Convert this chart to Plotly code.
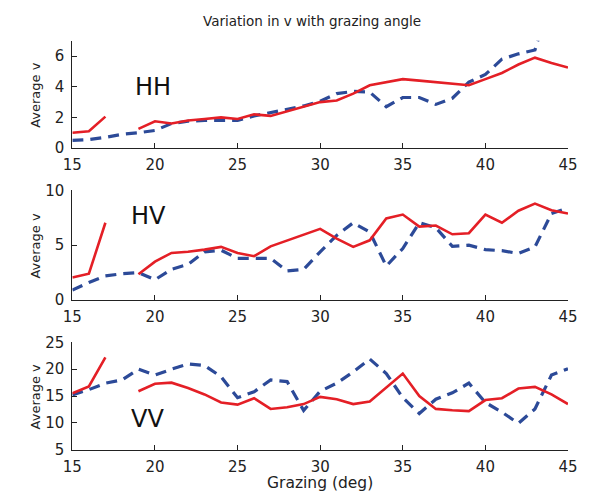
import plotly.graph_objects as go

grazing = list(range(15, 46))

hh_red = [1.0, 1.1, 2.05, None, 1.25, 1.75, 1.6, 1.8, 1.9, 2.0, 1.9, 2.2, 2.1, 2.4, 2.75, 3.0,
          3.1, 3.55, 4.1, 4.3, 4.5, 4.4, 4.3, 4.2, 4.1, 4.5, 4.9, 5.45, 5.9, 5.55, 5.25]
hh_blue = [0.5, 0.55, 0.7, 0.9, 1.0, 1.15, 1.6, 1.75, 1.8, 1.8, 1.8, 2.1, 2.3, 2.5, 2.75, 3.05,
           3.55, 3.7, 3.65, 2.7, 3.3, 3.3, 2.85, 3.25, 4.3, 4.8, 5.8, 6.15, 6.4, 10.0, 10.0]

hv_red = [2.05, 2.4, 7.05, None, 2.35, 3.5, 4.3, 4.4, 4.6, 4.85, 4.3, 4.0, 4.9, 5.45, 6.0, 6.5,
          5.6, 4.85, 5.45, 7.45, 7.8, 6.7, 6.8, 6.0, 6.1, 7.8, 7.05, 8.15, 8.8, 8.2, 7.9]
hv_blue = [0.9, 1.6, 2.2, 2.4, 2.5, 1.85, 2.8, 3.25, 4.4, 4.55, 3.8, 3.8, 3.8, 2.65, 2.8, 4.4,
           5.9, 7.05, 6.2, 3.1, 4.7, 7.05, 6.6, 4.9, 5.0, 4.6, 4.5, 4.25, 4.85, 7.9, 8.4]

vv_red = [15.5, 16.8, 22.2, None, 15.9, 17.3, 17.5, 16.5, 15.3, 13.8, 13.4, 14.6, 12.6, 12.9, 13.5, 14.85,
          14.4, 13.5, 14.0, 16.6, 19.2, 15.0, 12.6, 12.35, 12.2, 14.25, 14.6, 16.4, 16.7, 15.3, 13.5]
vv_blue = [15.2, 16.2, 17.4, 18.0, 20.0, 18.9, 20.0, 21.0, 20.7, 18.6, 14.7, 15.8, 18.0, 17.7, 12.3, 15.9,
           17.4, 19.5, 21.9, 19.2, 14.7, 11.75, 14.4, 15.6, 17.4, 13.8, 12.0, 9.9, 12.6, 18.9, 20.1]

x_ticks = [15, 20, 25, 30, 35, 40, 45]
panels = [
    ("HH", hh_red, hh_blue, [0, 7], [0, 2, 4, 6]),
    ("HV", hv_red, hv_blue, [0, 10], [0, 5, 10]),
    ("VV", vv_red, vv_blue, [5, 25], [5, 10, 15, 20, 25]),
]

OFF = 8  # default page body margin
W, H = 589 - OFF, 503 - OFF
x0, x1 = 64.3 - OFF, 577.6 - OFF
tops = [32.7 - OFF, 188.0 - OFF, 345.7 - OFF]
bots = [144.0 - OFF, 301.7 - OFF, 457.0 - OFF]
label_pos = [(147.5 - OFF, 81 - OFF), (143 - OFF, 215 - OFF), (142 - OFF, 425 - OFF)]

RED = "#e41f26"
BLUE = "#2c4a98"
FONT = "DejaVu Sans, Verdana, sans-serif"


def ann(text, px, py, size, angle=0, color="#222"):
    return dict(text=text, x=px / W, y=1 - py / H, xref="paper", yref="paper",
                xanchor="center", yanchor="middle", showarrow=False, textangle=angle,
                font=dict(size=size, color=color))


fig = go.Figure()
layout = dict(
    width=W, height=H, margin=dict(l=0, r=0, t=0, b=0),
    paper_bgcolor="white", plot_bgcolor="white", showlegend=False,
    font=dict(family=FONT, color="#222222"),
)
annotations = []
for i, (name, red, blue, yr, yt) in enumerate(panels):
    n = "" if i == 0 else str(i + 1)
    fig.add_trace(go.Scatter(x=grazing, y=blue, mode="lines", xaxis="x" + n, yaxis="y" + n,
                             line=dict(color=BLUE, width=3.2, dash="11px,7px"), connectgaps=False))
    fig.add_trace(go.Scatter(x=grazing, y=red, mode="lines", xaxis="x" + n, yaxis="y" + n,
                             line=dict(color=RED, width=2.6), connectgaps=False))
    ydom = [1 - bots[i] / H, 1 - tops[i] / H]
    layout["xaxis" + n] = dict(
        domain=[x0 / W, x1 / W], range=[15, 45], tickvals=x_ticks, ticks="inside", ticklen=5,
        tickcolor="#222", showline=True, linecolor="#222", linewidth=1, showgrid=False,
        zeroline=False, anchor="y" + n, tickfont=dict(size=15, color="#222"),
        ticklabelstandoff=3,
    )
    layout["yaxis" + n] = dict(
        domain=ydom, range=yr, tickvals=yt, ticks="inside", ticklen=5,
        tickcolor="#222", showline=True, linecolor="#222", linewidth=1, showgrid=False,
        zeroline=False, anchor="x" + n, tickfont=dict(size=15, color="#222"),
        ticklabelstandoff=4,
    )
    annotations.append(ann(name, label_pos[i][0], label_pos[i][1], 24, color="#111"))
    annotations.append(ann("Average v", 26 - OFF, (tops[i] + bots[i]) / 2, 13, angle=-90))

annotations.append(ann("Variation in v with grazing angle", 312 - OFF, 12 - OFF, 13.5))
annotations.append(ann("Grazing (deg)", 321 - OFF, 491.5 - OFF, 15.5))
layout["annotations"] = annotations
fig.update_layout(**layout)
fig.write_html("out.html")
